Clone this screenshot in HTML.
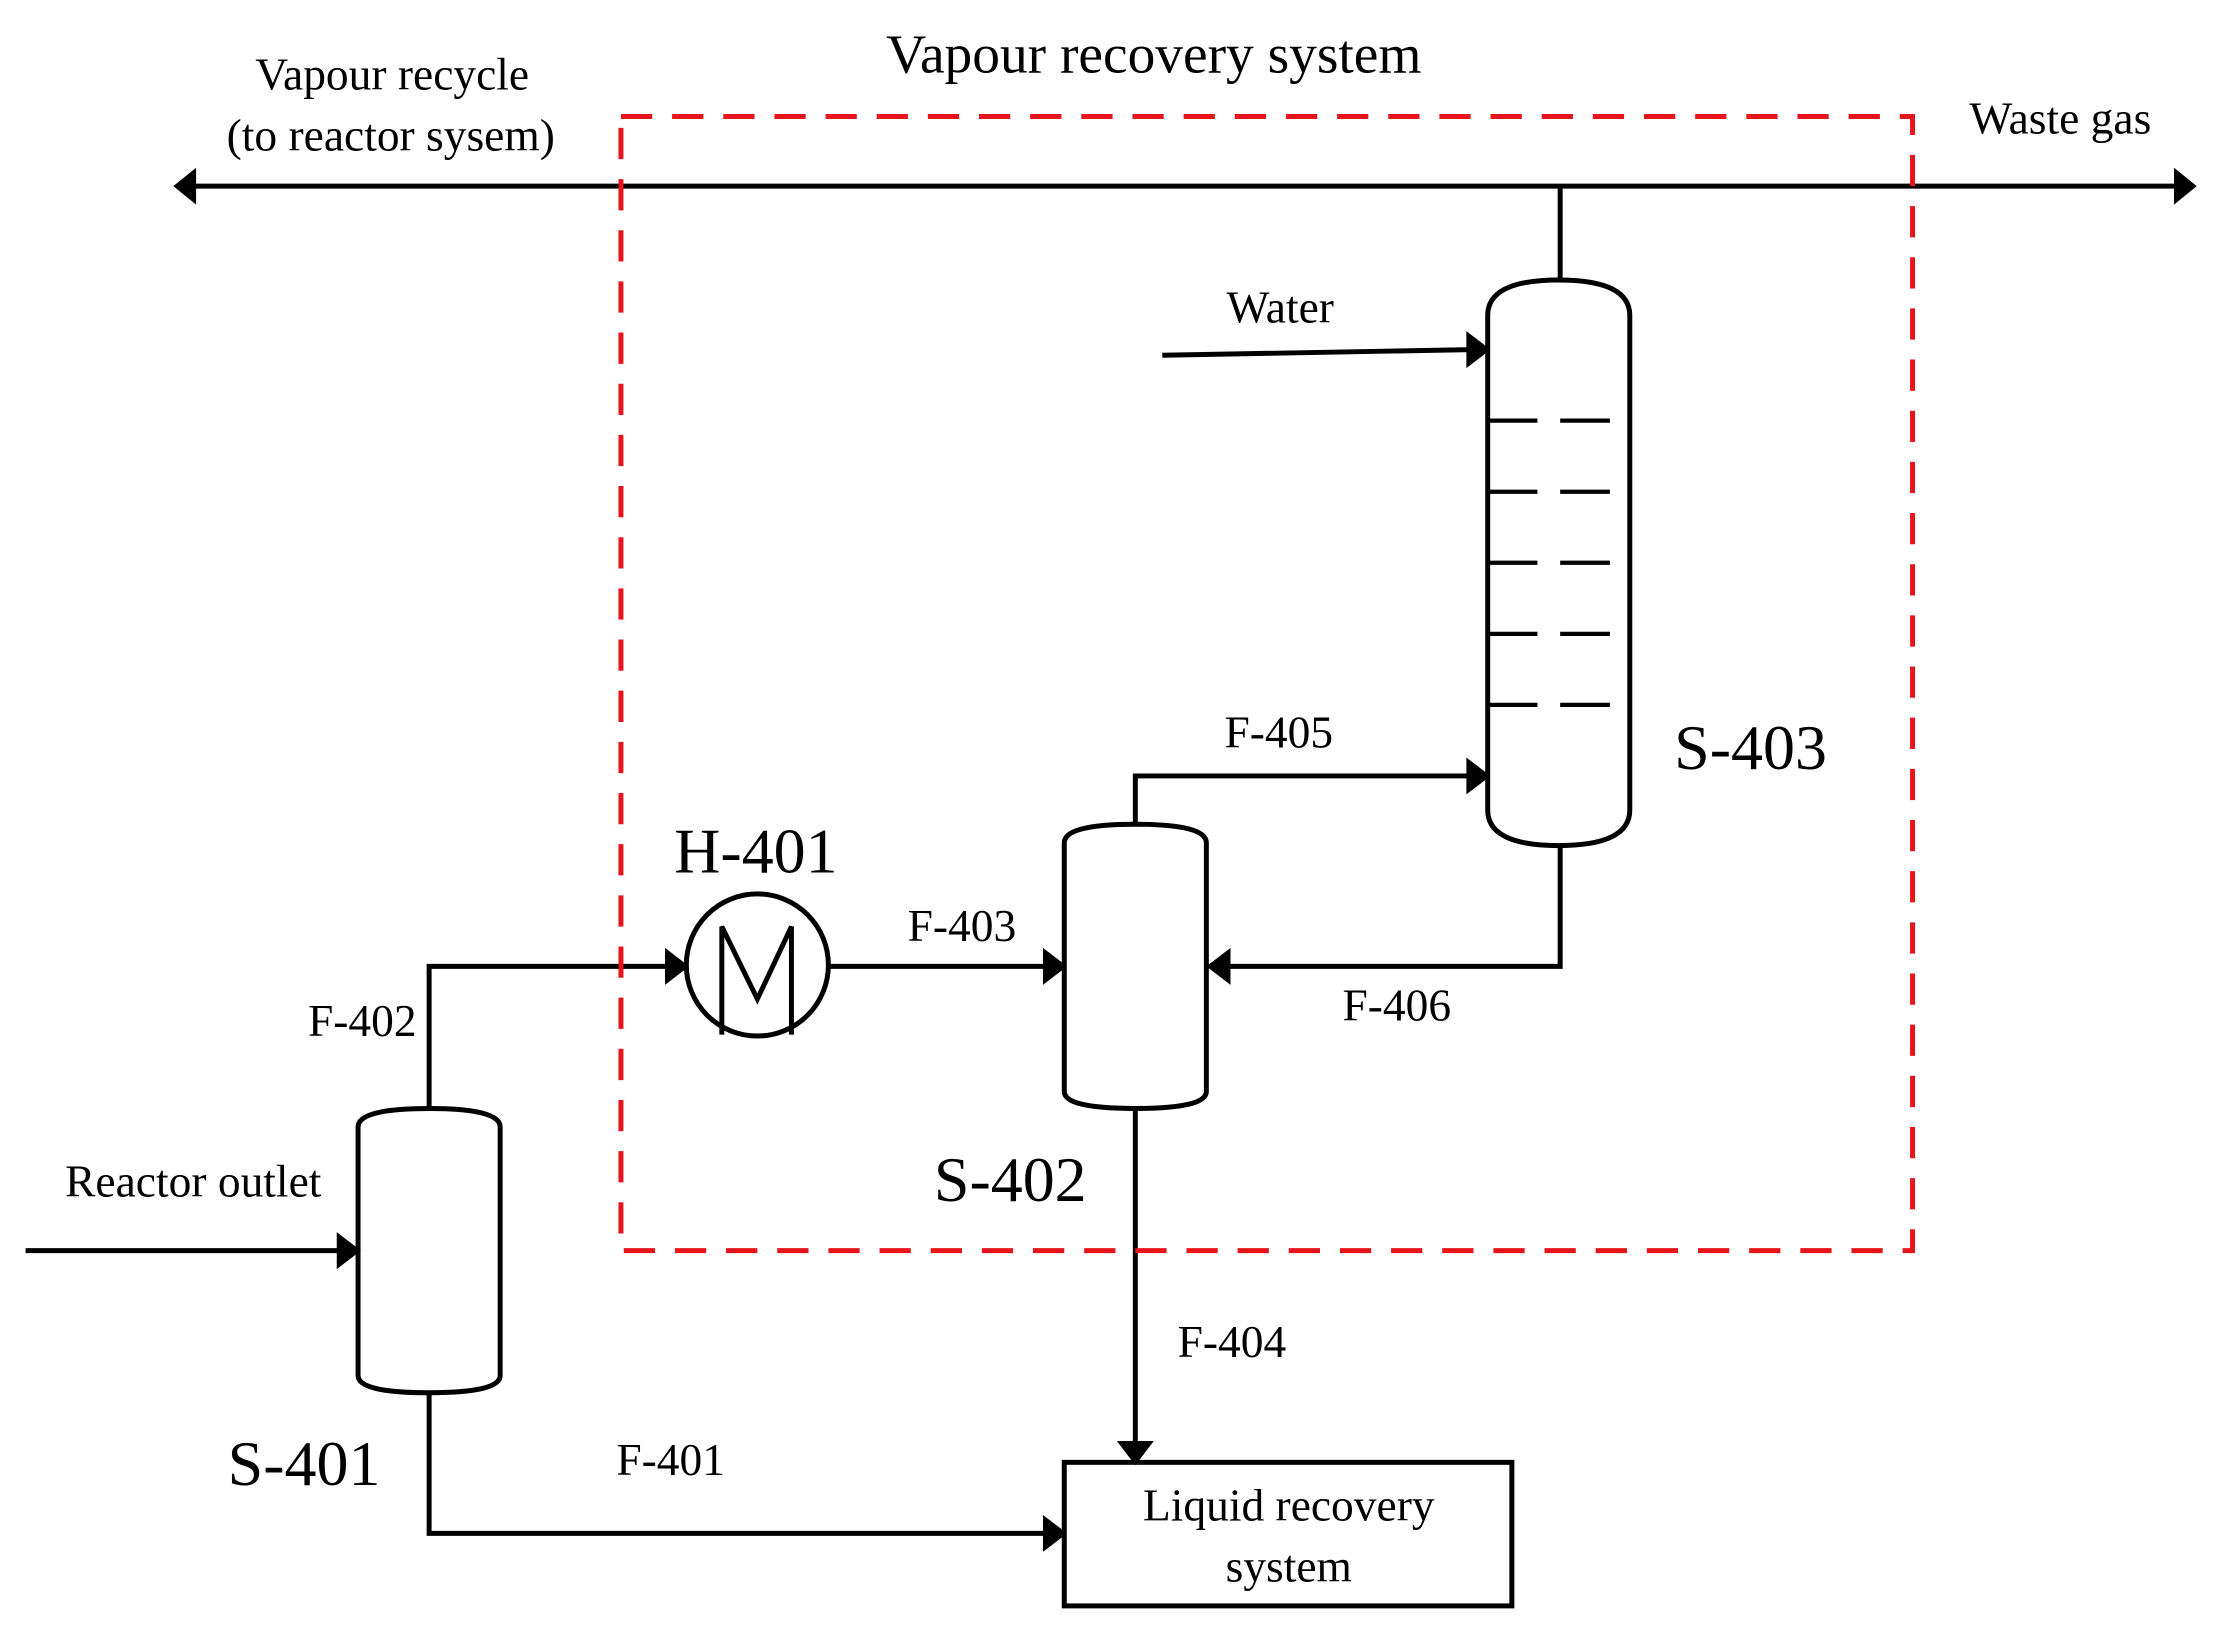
<!DOCTYPE html>
<html><head><meta charset="utf-8"><style>
html,body{margin:0;padding:0;background:#fff;}
svg{display:block;}
text{font-family:"Liberation Serif",serif;fill:#000;}
</style></head><body>
<svg width="2228" height="1640" viewBox="0 0 1568 1154" preserveAspectRatio="none" xmlns="http://www.w3.org/2000/svg">
<g stroke="#000" stroke-width="3.5" fill="none">
<line x1="135" y1="131" x2="1532" y2="131"/>
<line x1="1098" y1="131" x2="1098" y2="197"/>
<path d="M1047,222 Q1047,197 1097,197 Q1147,197 1147,222 L1147,570 Q1147,595 1097,595 Q1047,595 1047,570 Z"/>
<g stroke-width="3">
<line x1="1047" y1="296" x2="1082" y2="296"/><line x1="1098" y1="296" x2="1133" y2="296"/>
<line x1="1047" y1="346" x2="1082" y2="346"/><line x1="1098" y1="346" x2="1133" y2="346"/>
<line x1="1047" y1="396" x2="1082" y2="396"/><line x1="1098" y1="396" x2="1133" y2="396"/>
<line x1="1047" y1="446" x2="1082" y2="446"/><line x1="1098" y1="446" x2="1133" y2="446"/>
<line x1="1047" y1="496" x2="1082" y2="496"/><line x1="1098" y1="496" x2="1133" y2="496"/>
</g>
<line x1="818" y1="250" x2="1035" y2="246"/>
<polyline points="799,580 799,546 1035,546"/>
<path d="M749,593 Q749,580 799,580 Q849,580 849,593 L849,768 Q849,780 799,780 Q749,780 749,768 Z"/>
<polyline points="1098,595 1098,680 862,680"/>
<line x1="584" y1="680" x2="737" y2="680"/>
<circle cx="533" cy="679" r="50"/>
<polyline points="508,728 508,652 533,703 557,652 557,728"/>
<polyline points="302,780 302,680 472,680"/>
<path d="M252,793 Q252,780 302,780 Q352,780 352,793 L352,968 Q352,980 302,980 Q252,980 252,968 Z"/>
<line x1="18" y1="880" x2="240" y2="880"/>
<polyline points="302,980 302,1079 737,1079"/>
<line x1="799" y1="780" x2="799" y2="1017"/>
<rect x="749" y="1029" width="315" height="101"/>
</g>
<g fill="#000">
<polygon points="122,131 138,118 138,144"/>
<polygon points="1546,131 1530,118 1530,144"/>
<polygon points="1049,246 1032,233 1032,259"/>
<polygon points="1049,546 1032,533 1032,559"/>
<polygon points="849,680 866,667 866,693"/>
<polygon points="751,680 734,667 734,693"/>
<polygon points="485,680 468,667 468,693"/>
<polygon points="254,880 237,867 237,893"/>
<polygon points="751,1079 734,1066 734,1092"/>
<polygon points="799,1031 786,1014 812,1014"/>
</g>
<rect x="437" y="82" width="909" height="798" fill="none" stroke="#e8141c" stroke-width="3.5" stroke-dasharray="22,14"/>
<g font-size="32">
<text x="812" y="51" text-anchor="middle" font-size="39">Vapour recovery system</text>
<text x="276" y="63" text-anchor="middle">Vapour recycle</text>
<text x="275" y="106" text-anchor="middle">(to reactor sysem)</text>
<text x="1450" y="94" text-anchor="middle">Waste gas</text>
<text x="901" y="227" text-anchor="middle">Water</text>
<text x="900" y="526" text-anchor="middle">F-405</text>
<text x="677" y="662" text-anchor="middle">F-403</text>
<text x="983" y="718" text-anchor="middle">F-406</text>
<text x="255" y="729" text-anchor="middle">F-402</text>
<text x="136" y="842" text-anchor="middle">Reactor outlet</text>
<text x="867" y="955" text-anchor="middle">F-404</text>
<text x="472" y="1038" text-anchor="middle">F-401</text>
<text x="907" y="1070" text-anchor="middle">Liquid recovery</text>
<text x="907" y="1113" text-anchor="middle">system</text>
</g>
<g font-size="45">
<text x="532" y="614" text-anchor="middle">H-401</text>
<text x="1232" y="541" text-anchor="middle">S-403</text>
<text x="711" y="845" text-anchor="middle">S-402</text>
<text x="214" y="1045" text-anchor="middle">S-401</text>
</g>
</svg>
</body></html>
